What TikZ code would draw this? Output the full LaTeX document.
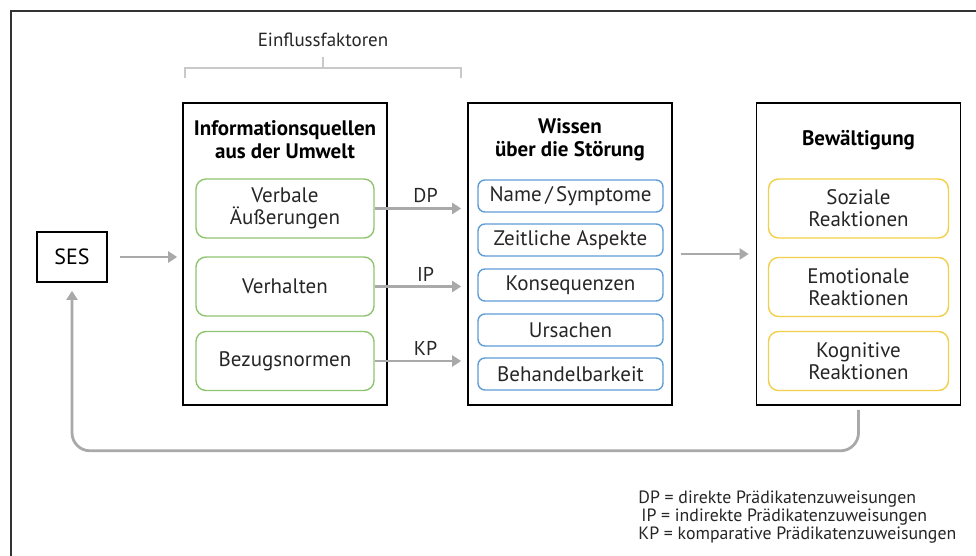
\documentclass[tikz,border=0pt]{standalone}
\usepackage{fontspec}
\setmainfont{PT Sans}
\usetikzlibrary{arrows.meta, positioning, calc}
\definecolor{frameGray}{HTML}{333333}
\definecolor{arrowGray}{HTML}{A9A9A9}
\definecolor{braceGray}{HTML}{C9C9C9}
\definecolor{srcGreen}{HTML}{8FC46E}
\definecolor{knowBlue}{HTML}{5F9DD8}
\definecolor{copeYellow}{HTML}{F1CF48}
\definecolor{txtDark}{HTML}{262626}

\tikzset{
    bigbox/.style={draw=black, line width=0.8pt, minimum width=102pt, minimum height=151pt, inner sep=0pt},
    boxtitle/.style={font=\fontsize{10.5}{11.5}\selectfont\bfseries, align=center, text=black},
    inner/.style={line width=0.7pt, align=center, text=txtDark, inner sep=1pt, font=\fontsize{10.5}{11}\selectfont},
    greenbox/.style={inner, draw=srcGreen, rounded corners=5pt, minimum width=89pt, minimum height=29.5pt},
    bluebox/.style={inner, draw=knowBlue, rounded corners=3.5pt, minimum width=92.5pt, minimum height=16pt},
    yellowbox/.style={inner, draw=copeYellow, rounded corners=5pt, minimum width=90pt, minimum height=29.5pt},
    flow/.style={draw=arrowGray, line width=1.4pt, -{Triangle[length=4.5pt, width=5.5pt]}},
    flowlbl/.style={font=\fontsize{10}{11}\selectfont, text=txtDark, inner sep=2pt}
}

\begin{document}
\begin{tikzpicture}[x=0.5pt, y=-0.5pt]
    \useasboundingbox (0,0) rectangle (976,556);

    % Frame
    \draw[frameGray, line width=1pt] (11,556) -- (11,11) -- (976,11);

    % Einflussfaktoren bracket
    \node[font=\fontsize{9.5}{11}\selectfont, text=txtDark] (einfl) at (323,40) {Einflussfaktoren};
    \draw[braceGray, line width=0.6pt] (185,78) |- (461,68) -- (461,78);
    \draw[braceGray, line width=0.6pt] (einfl.south) ++(0,3) -- (323,68);

    % Main boxes
    \node[bigbox] (info) at (285,254) {};
    \node[bigbox] (wis) at (570,254) {};
    \node[bigbox] (bew) at (858.5,254) {};

    \node[boxtitle] (infot) at (285,140) {Informationsquellen\\aus der Umwelt};
    \node[boxtitle] (wist) at (570,140) {Wissen\\über die Störung};
    \node[boxtitle] (bewt) at (858.5,140) {Bewältigung};

    % SES
    \node[draw=black, line width=0.8pt, minimum width=35pt, minimum height=25pt,
          font=\fontsize{11}{12}\selectfont] (ses) at (72,257) {SES};

    % Informationsquellen
    \node[greenbox] (verb) at (285,208.5) {Verbale\\Äußerungen};
    \node[greenbox] (verh) at (285,286.5) {Verhalten};
    \node[greenbox] (bezu) at (285,361) {Bezugsnormen};

    % Wissen
    \node[bluebox] (name) at (570.5,196) {Name\,/\,Symptome};
    \node[bluebox] (zeit) at (570.5,240) {Zeitliche Aspekte};
    \node[bluebox] (kons) at (570.5,285) {Konsequenzen};
    \node[bluebox] (urs) at (570.5,330) {Ursachen};
    \node[bluebox] (beh) at (570.5,374) {Behandelbarkeit};

    % Bewaeltigung
    \node[yellowbox] (soz) at (858.5,208.5) {Soziale\\Reaktionen};
    \node[yellowbox] (emo) at (858.5,287) {Emotionale\\Reaktionen};
    \node[yellowbox] (kog) at (858.5,361) {Kognitive\\Reaktionen};

    % Arrows
    \draw[flow, shorten <=6pt, shorten >=2.5pt] (ses.east) -- (ses.east -| info.west);
    \foreach \src/\lbl in {verb/DP, verh/IP, bezu/KP} {
        \draw[flow, shorten >=3pt] (\src.east) -- (\src.east -| wis.west)
            node[flowlbl, pos=0.55, above] {\lbl};
    }
    \draw[flow, shorten <=4pt, shorten >=3.5pt] (wis.east) -- (bew.west);
    \draw[flow, rounded corners=9pt, shorten <=2pt, shorten >=4pt] (bew.south) -- ++(0,45) -| (ses.south);

    % Legend
    \node[anchor=north west, align=left, text=txtDark, inner sep=0pt,
          font=\fontsize{8.9}{9}\selectfont] (legend) at (638,490)
        {DP = direkte Prädikatenzuweisungen\\
         \,IP = indirekte Prädikatenzuweisungen\\
         KP = komparative Prädikatenzuweisungen};
\end{tikzpicture}
\end{document}
